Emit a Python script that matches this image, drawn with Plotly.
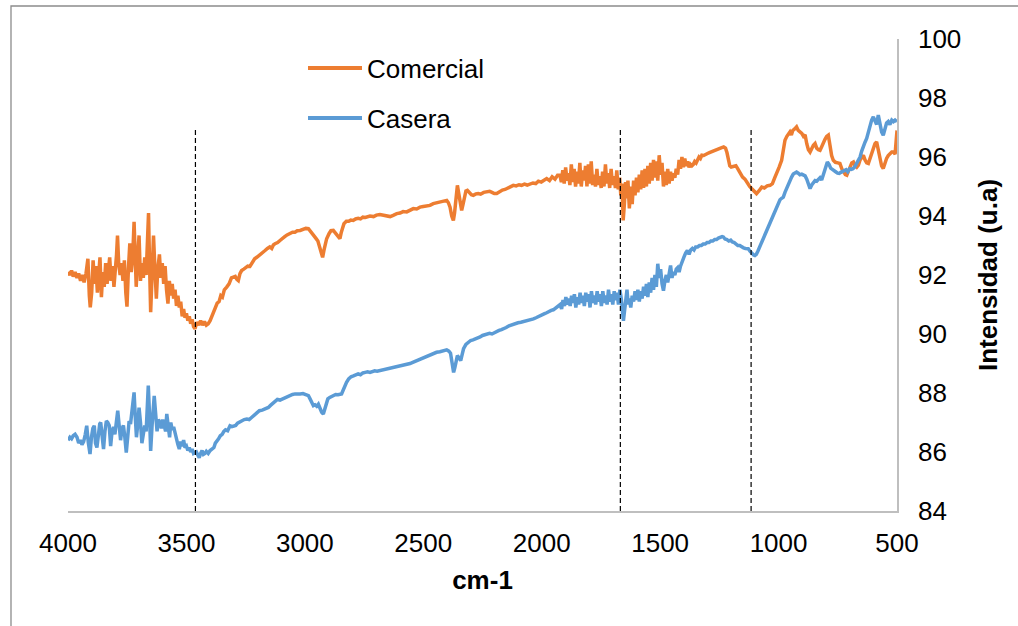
import plotly.graph_objects as go

# ---- data (wavenumber cm-1, intensity u.a) ----
comercial_x = [4000,3992,3985,3978,3970,3962,3955,3947,3940,3932,3924,3916,3910,3906,3900,3894,3888,3882,3876,3870,
    3865,3859,3853,3847,3841,3835,3829,3824,3818,3812,3806,3800,3795,3791,3786,3780,3774,3768,3762,3756,
    3751,3745,3739,3733,3727,3721,3716,3712,3706,3700,3694,3688,3682,3676,3670,3664,3660,3655,3651,3645,
    3639,3633,3627,3621,3614,3608,3602,3596,3590,3584,3578,3572,3566,3560,3554,3548,3542,3536,3530,3524,
    3518,3512,3506,3500,3494,3488,3482,3476,3470,3464,3456,3448,3440,3432,3424,3416,3408,3400,3392,3386,
    3378,3370,3362,3355,3348,3340,3330,3320,3310,3302,3294,3287,3281,3274,3267,3258,3250,3241,3232,3222,
    3212,3203,3194,3186,3177,3168,3158,3148,3140,3133,3126,3115,3105,3095,3085,3075,3063,3052,3042,3032,
    3020,3008,2996,2985,2975,2964,2954,2945,2937,2930,2925,2919,2913,2908,2898,2890,2880,2870,2860,2852,
    2846,2840,2835,2825,2815,2806,2796,2786,2775,2765,2755,2745,2739,2725,2710,2698,2683,2670,2655,2640,
    2627,2612,2598,2585,2570,2556,2542,2528,2514,2500,2486,2472,2458,2444,2430,2415,2401,2394,2387,2380,
    2373,2368,2362,2356,2350,2344,2338,2332,2326,2320,2314,2305,2297,2289,2278,2268,2258,2245,2232,2220,
    2210,2200,2190,2178,2166,2155,2143,2131,2120,2108,2096,2085,2073,2061,2049,2037,2025,2014,2002,1990,
    1979,1967,1956,1944,1933,1923,1917,1911,1905,1899,1893,1887,1881,1875,1869,1863,1857,1851,1845,1839,
    1833,1827,1821,1815,1809,1803,1797,1791,1785,1779,1773,1767,1761,1755,1749,1743,1737,1731,1725,1719,
    1713,1707,1701,1695,1689,1683,1677,1671,1666,1661,1656,1651,1646,1641,1636,1630,1624,1618,1612,1606,
    1600,1594,1588,1582,1576,1570,1564,1558,1552,1546,1540,1534,1528,1522,1516,1510,1504,1498,1492,1486,
    1480,1474,1468,1462,1456,1450,1444,1438,1432,1426,1420,1414,1408,1402,1396,1390,1384,1378,1372,1366,
    1360,1354,1348,1342,1336,1330,1324,1316,1308,1300,1292,1284,1276,1268,1260,1250,1240,1232,1224,1218,
    1212,1206,1200,1190,1180,1172,1163,1152,1142,1132,1122,1114,1104,1093,1083,1071,1060,1048,1036,1026,
    1016,1008,998,987,980,973,965,958,952,946,940,932,924,917,910,902,895,888,881,874,
    867,860,853,846,839,832,825,818,811,804,797,790,783,776,769,760,750,741,733,724,
    718,712,705,698,691,684,677,670,663,656,649,642,635,628,621,614,607,600,593,586,
    579,572,565,558,551,544,537,530,522,515,508,504,500]
comercial_y = [92.10,92.00,92.15,91.95,92.10,91.90,92.05,91.80,92.00,91.75,92.05,92.55,91.30,90.90,91.40,92.50,91.70,92.30,91.40,92.20,
    92.60,91.25,92.10,91.60,92.40,91.70,92.30,92.60,91.80,92.30,91.60,92.10,92.70,93.34,92.40,92.00,92.40,91.80,92.50,91.40,
    90.93,92.20,93.07,92.10,92.60,93.80,92.20,91.60,92.60,93.34,91.80,92.40,91.90,92.60,92.00,93.20,94.10,92.10,90.74,92.00,
    93.34,92.20,91.20,92.20,92.70,91.90,92.40,91.70,92.30,91.50,91.03,91.80,91.30,91.70,91.20,91.50,90.95,91.30,90.90,91.10,
    90.60,90.85,90.55,90.70,90.45,90.60,90.35,90.50,90.25,90.18,90.40,90.30,90.45,90.30,90.42,90.30,90.35,90.45,90.60,90.68,
    90.85,91.05,91.10,91.30,91.25,91.50,91.59,91.70,91.90,91.93,91.95,91.85,91.81,92.05,92.15,92.20,92.25,92.30,92.29,92.45,
    92.55,92.60,92.65,92.70,92.78,92.83,92.90,92.95,92.90,93.02,93.06,93.10,93.17,93.25,93.30,93.36,93.40,93.45,93.45,93.50,
    93.51,93.55,93.58,93.57,93.45,93.34,93.25,93.15,92.95,92.70,92.60,92.85,93.10,93.23,93.40,93.50,93.51,93.40,93.30,93.23,
    93.45,93.65,93.74,93.82,93.82,93.86,93.85,93.90,93.92,93.90,93.96,93.95,93.96,94.00,93.98,94.03,94.05,94.02,94.00,93.98,
    94.02,94.08,94.10,94.15,94.14,94.20,94.25,94.24,94.30,94.32,94.33,94.36,94.42,94.45,94.47,94.50,94.53,94.45,94.30,94.00,
    93.85,94.10,94.70,95.04,94.75,94.35,94.19,94.40,94.70,94.85,94.87,94.78,94.72,94.70,94.75,94.76,94.74,94.80,94.81,94.84,
    94.80,94.76,94.76,94.82,94.88,94.90,94.95,94.98,95.04,95.02,95.06,95.04,95.08,95.05,95.10,95.12,95.10,95.18,95.15,95.22,
    95.27,95.20,95.33,95.25,95.38,95.38,95.15,95.55,95.10,95.65,95.20,95.45,95.05,95.75,95.15,95.60,95.00,95.50,95.10,95.80,
    95.00,95.55,95.20,95.70,95.00,95.75,95.10,95.85,95.05,95.40,95.00,95.60,95.05,95.35,94.95,95.50,95.00,95.75,95.10,95.45,
    94.95,95.60,95.05,95.35,94.95,95.55,94.90,95.30,94.70,95.10,93.85,94.40,95.15,94.60,95.20,94.26,95.00,94.40,95.20,94.70,
    95.30,94.80,95.40,94.90,95.55,94.95,95.60,95.00,95.70,95.10,95.80,95.20,95.90,95.30,95.85,95.20,96.06,95.40,95.80,95.00,
    95.50,95.05,95.60,95.10,95.50,95.20,95.45,95.30,95.60,95.40,95.90,95.60,96.00,95.65,95.95,95.70,95.85,95.65,95.75,95.70,
    95.75,95.85,95.80,95.90,96.00,95.95,96.06,96.05,96.10,96.12,96.15,96.18,96.20,96.22,96.25,96.28,96.32,96.34,96.30,96.15,
    95.90,95.70,95.66,95.68,95.70,95.60,95.45,95.32,95.25,95.10,95.00,94.93,94.85,94.76,94.85,94.98,94.95,95.02,95.04,95.10,
    95.30,95.49,95.65,95.89,96.20,96.57,96.70,96.80,96.85,96.75,96.90,96.95,97.02,96.90,96.85,96.80,96.70,96.75,96.45,96.25,
    96.17,96.30,96.40,96.46,96.30,96.25,96.23,96.35,96.50,96.60,96.70,96.74,96.40,96.05,95.89,95.82,95.80,95.78,95.60,95.45,
    95.40,95.38,95.55,95.70,95.80,95.83,95.70,95.65,95.72,95.90,96.00,96.06,95.90,95.80,95.78,95.95,96.10,96.30,96.45,96.51,
    96.20,95.90,95.70,95.61,95.80,95.95,96.05,96.10,96.17,96.17,96.10,96.50,96.90]

casera_x = [4000,3992,3985,3978,3970,3962,3955,3948,3941,3934,3927,3921,3914,3907,3901,3895,3889,3884,3878,3872,
    3866,3862,3856,3850,3844,3838,3832,3826,3820,3814,3808,3802,3796,3790,3784,3778,3772,3766,3760,3754,
    3748,3742,3736,3730,3725,3721,3716,3711,3706,3700,3694,3688,3682,3676,3670,3665,3661,3656,3651,3645,
    3640,3636,3630,3624,3618,3612,3606,3600,3594,3588,3583,3577,3571,3566,3560,3554,3548,3542,3536,3530,
    3524,3518,3512,3506,3500,3494,3488,3482,3476,3470,3464,3458,3452,3446,3440,3434,3428,3422,3416,3408,
    3400,3392,3384,3378,3372,3365,3357,3349,3342,3335,3326,3316,3308,3300,3292,3284,3275,3267,3256,3245,
    3235,3225,3214,3203,3192,3180,3168,3160,3154,3145,3136,3126,3116,3105,3095,3085,3074,3063,3052,3041,
    3030,3020,3008,2996,2985,2978,2971,2964,2957,2950,2943,2936,2929,2922,2916,2910,2903,2895,2888,2880,
    2870,2860,2852,2845,2838,2832,2824,2815,2805,2795,2785,2775,2765,2755,2745,2735,2725,2715,2705,2695,
    2683,2670,2657,2645,2632,2620,2607,2595,2582,2570,2556,2542,2528,2514,2500,2486,2472,2458,2444,2430,
    2415,2401,2392,2385,2378,2372,2367,2362,2356,2350,2345,2342,2336,2330,2320,2310,2300,2290,2280,2270,
    2260,2250,2240,2232,2220,2210,2200,2190,2180,2170,2162,2150,2138,2125,2113,2100,2088,2075,2062,2048,
    2035,2024,2013,2002,1990,1979,1968,1960,1951,1940,1930,1922,1916,1910,1904,1898,1892,1886,1880,1874,
    1868,1862,1856,1850,1844,1838,1832,1826,1820,1814,1808,1802,1796,1790,1784,1778,1772,1766,1760,1754,
    1748,1742,1736,1730,1724,1718,1712,1706,1700,1694,1688,1682,1676,1670,1664,1659,1655,1650,1645,1640,
    1635,1630,1624,1618,1612,1606,1600,1594,1588,1582,1576,1570,1564,1558,1552,1546,1540,1534,1528,1522,
    1516,1510,1504,1498,1492,1486,1480,1474,1468,1462,1456,1450,1444,1438,1432,1426,1420,1414,1408,1400,
    1392,1385,1378,1371,1364,1357,1350,1342,1334,1326,1318,1310,1302,1294,1286,1278,1270,1262,1254,1246,
    1238,1233,1226,1218,1210,1202,1195,1187,1180,1172,1164,1156,1148,1140,1133,1128,1120,1112,1105,1100,
    1094,1088,1080,1072,1065,1057,1050,1043,1036,1029,1021,1014,1007,1000,994,987,980,973,966,959,
    952,945,938,931,924,917,910,902,895,888,881,874,867,860,853,846,839,832,825,818,
    811,804,797,794,787,780,773,766,759,751,744,737,730,722,715,708,700,693,686,679,
    672,665,656,649,642,635,628,621,614,607,600,593,586,579,572,565,558,551,544,537,
    530,522,515,508,500]
casera_y = [86.40,86.50,86.45,86.55,86.60,86.50,86.30,86.40,86.25,86.35,86.60,86.89,86.30,85.93,86.50,86.80,86.89,86.30,86.15,86.60,
    86.95,87.00,86.40,86.10,86.70,87.05,87.00,86.90,86.20,86.70,86.85,86.60,87.00,87.40,86.90,86.40,86.80,86.90,86.50,85.98,
    86.50,87.05,86.95,87.30,87.70,88.02,87.20,86.50,86.90,87.50,87.00,86.30,86.60,86.90,86.70,87.40,88.25,87.30,86.04,86.90,
    87.60,87.90,87.30,86.70,87.10,87.00,86.80,87.10,86.90,86.70,87.29,86.80,86.50,87.00,86.75,86.85,86.60,86.40,86.25,86.10,
    86.35,86.20,86.40,86.15,86.20,86.05,86.15,86.00,86.10,85.95,85.98,86.00,85.90,85.81,85.95,86.05,85.92,85.95,86.02,85.95,
    86.05,86.10,86.15,86.30,86.35,86.44,86.55,86.60,86.70,86.75,86.72,86.89,86.86,86.87,86.90,86.98,87.02,87.06,87.10,87.12,
    87.10,87.17,87.26,87.34,87.40,87.42,87.45,87.50,87.51,87.58,87.65,87.74,87.78,87.76,87.80,87.85,87.88,87.91,87.95,87.97,
    87.96,87.97,87.98,87.95,87.91,87.80,87.65,87.57,87.60,87.55,87.62,87.45,87.35,87.29,87.45,87.65,87.80,87.85,87.88,87.91,
    87.95,87.94,87.96,87.97,88.10,88.25,88.36,88.48,88.55,88.58,88.62,88.65,88.62,88.68,88.70,88.72,88.70,88.74,88.75,88.74,
    88.76,88.80,88.82,88.85,88.86,88.88,88.90,88.92,88.93,88.96,89.00,89.05,89.10,89.15,89.21,89.24,89.28,89.34,89.38,89.40,
    89.42,89.46,89.42,89.35,89.00,88.70,88.85,89.10,89.27,89.20,89.10,89.10,89.30,89.50,89.65,89.72,89.78,89.80,89.83,89.85,
    89.90,89.95,89.98,90.00,90.02,90.00,90.05,90.10,90.12,90.15,90.17,90.22,90.28,90.32,90.36,90.38,90.40,90.42,90.45,90.48,
    90.51,90.55,90.60,90.65,90.68,90.72,90.78,90.80,90.82,90.88,90.95,91.00,90.85,91.15,90.95,91.25,91.00,91.20,90.95,91.30,
    91.05,91.35,90.90,91.25,91.00,91.40,91.05,91.30,90.95,91.40,91.10,91.35,90.90,91.45,91.05,91.30,91.00,91.45,91.10,91.35,
    90.95,91.45,91.05,91.30,91.00,91.50,91.10,91.35,91.00,91.45,91.15,91.40,91.00,91.50,91.20,90.90,90.45,90.80,91.30,91.50,
    91.00,91.20,90.90,91.30,91.10,91.45,91.15,91.50,91.10,91.45,91.20,91.60,91.30,91.70,91.25,91.75,91.40,91.90,91.50,92.00,
    91.60,92.38,91.90,92.20,91.70,91.47,91.80,92.00,91.75,92.10,92.32,91.90,92.10,92.00,92.20,92.25,92.10,92.30,92.40,92.60,
    92.75,92.83,92.70,92.85,92.90,92.85,92.95,92.95,93.00,93.00,93.05,93.05,93.10,93.10,93.15,93.15,93.20,93.20,93.25,93.28,
    93.30,93.29,93.22,93.20,93.15,93.18,93.12,93.10,93.05,93.00,93.00,92.95,92.92,92.90,92.90,92.89,92.80,92.72,92.68,92.66,
    92.70,92.80,92.95,93.10,93.20,93.35,93.50,93.62,93.75,93.85,94.00,94.15,94.30,94.45,94.55,94.60,94.64,94.80,94.95,95.10,
    95.21,95.32,95.42,95.46,95.49,95.45,95.40,95.42,95.38,95.36,95.25,95.05,94.93,95.05,95.15,95.20,95.18,95.25,95.30,95.22,
    95.40,95.65,95.80,95.83,95.75,95.62,95.58,95.55,95.50,95.45,95.44,95.48,95.52,95.55,95.57,95.50,95.60,95.58,95.60,95.66,
    95.75,95.85,96.00,96.20,96.40,96.50,96.63,96.85,97.05,97.25,97.36,97.20,97.10,97.42,97.10,96.85,96.74,96.95,97.15,97.20,
    97.10,97.25,97.20,97.25,97.20]

series_names = ["Comercial", "Casera"]
series_colors = ["#ED7D31", "#5B9BD5"]

band_positions = [3462, 1668, 1116]   # dashed reference bands (cm-1)
band_top = 97

x_ticks = [4000, 3500, 3000, 2500, 2000, 1500, 1000, 500]
y_ticks = [84, 86, 88, 90, 92, 94, 96, 98, 100]

FONT = "Liberation Sans, Arial, sans-serif"

# plot-area geometry (pixels)
L, R, T, B = 68, 121, 39, 115
W, H = 1018, 626
PW, PH = W - L - R, H - T - B


def px_x(px):
    return (px - L) / PW


def px_y(py):
    return (H - B - py) / PH


fig = go.Figure()
for xs, ys, nm, col in [(comercial_x, comercial_y, series_names[0], series_colors[0]),
                        (casera_x, casera_y, series_names[1], series_colors[1])]:
    fig.add_trace(go.Scatter(x=xs, y=ys, mode="lines", name=nm, showlegend=False,
                             line=dict(color=col, width=3.5)))

for bx in band_positions:
    fig.add_shape(type="line", xref="x", yref="y", x0=bx, x1=bx, y0=84, y1=band_top,
                  line=dict(color="black", width=1.2, dash="5px,3px"), layer="above")

# legend (drawn as keys + labels)
legend_rows = [68, 118]
for nm, col, ry in zip(series_names, series_colors, legend_rows):
    fig.add_shape(type="line", xref="paper", yref="paper",
                  x0=px_x(308), x1=px_x(362), y0=px_y(ry), y1=px_y(ry),
                  line=dict(color=col, width=4))
    fig.add_annotation(xref="paper", yref="paper", x=px_x(365), y=px_y(ry + 1),
                       xanchor="left", yanchor="middle", showarrow=False,
                       text=nm, font=dict(size=26, color="black"))

# outer chart border
fig.add_shape(type="rect", xref="paper", yref="paper",
              x0=px_x(11), x1=px_x(1030), y0=px_y(6), y1=px_y(640),
              line=dict(color="#8C8C8C", width=1.3), fillcolor="rgba(0,0,0,0)", layer="below")

fig.update_layout(
    width=W, height=H,
    margin=dict(l=L, r=R, t=T, b=B),
    paper_bgcolor="white", plot_bgcolor="white",
    font=dict(family=FONT, size=26, color="black"),
    showlegend=False,
    xaxis=dict(range=[4000, 500], tickvals=x_ticks, ticktext=[str(v) for v in x_ticks],
               showgrid=False, zeroline=False, showline=True, linecolor="#BFBFBF", linewidth=1.5,
               ticks="", ticklabelstandoff=8, tickfont=dict(size=26),
               title=dict(text="<b>cm-1</b>", font=dict(size=26), standoff=14)),
    yaxis=dict(range=[84, 100], tickvals=y_ticks, side="right",
               showgrid=False, zeroline=False, showline=True, linecolor="#BFBFBF", linewidth=1.5,
               ticks="", ticklabelstandoff=14, tickfont=dict(size=26),
               title=dict(text="<b>Intensidad (u.a)</b>", font=dict(size=26), standoff=18)),
)

fig.write_html("out.html")
